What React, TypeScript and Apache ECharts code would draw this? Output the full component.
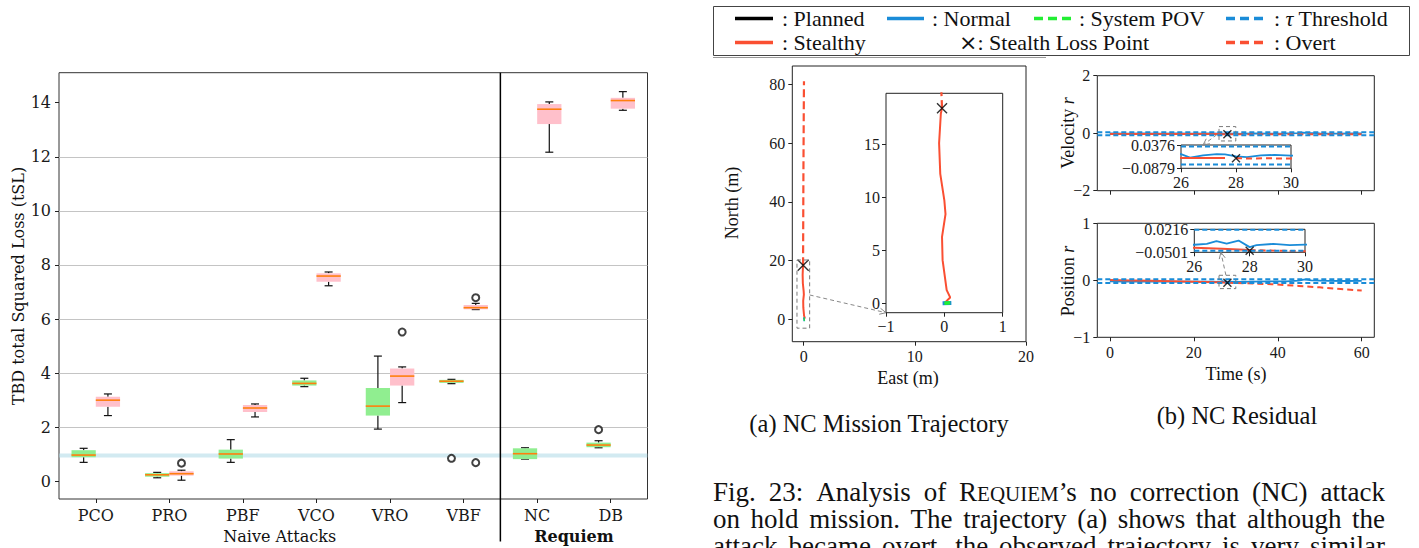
import React, { useEffect, useRef } from 'react';
import * as echarts from 'echarts';

// ---------------- Data ----------------
const categories = ['PCO', 'PRO', 'PBF', 'VCO', 'VRO', 'VBF', 'NC', 'DB'];
// [lower whisker, Q1, median, Q3, upper whisker]
const greenBoxStats = [
  [0.70, 0.89, 0.97, 1.15, 1.22],
  [0.13, 0.17, 0.24, 0.30, 0.33],
  [0.70, 0.84, 1.01, 1.17, 1.54],
  [3.50, 3.54, 3.62, 3.73, 3.81],
  [1.93, 2.43, 2.78, 3.45, 4.63],
  [3.61, 3.64, 3.70, 3.75, 3.77],
  [0.82, 0.82, 1.02, 1.22, 1.24],
  [1.24, 1.26, 1.34, 1.43, 1.50],
];
const pinkBoxStats = [
  [2.43, 2.76, 3.00, 3.13, 3.23],
  [0.04, 0.21, 0.28, 0.37, 0.41],
  [2.38, 2.56, 2.71, 2.82, 2.86],
  [7.23, 7.38, 7.59, 7.69, 7.74],
  [2.91, 3.54, 3.89, 4.17, 4.23],
  [6.35, 6.36, 6.42, 6.52, 6.58],
  [12.17, 13.21, 13.76, 13.95, 14.03],
  [13.72, 13.78, 14.08, 14.18, 14.41],
];
const greenOutliers: [string, number][] = [['VBF', 0.85], ['DB', 1.91]];
const pinkOutliers: [string, number][] = [['PRO', 0.67], ['VRO', 5.52], ['VBF', 6.79], ['VBF', 0.69]];
const thresholdLevel = 0.95;
const boxYTicks = [0, 2, 4, 6, 8, 10, 12, 14];
const naiveGroup = ['PCO', 'PRO', 'PBF', 'VCO', 'VRO', 'VBF'];
const requiemGroup = ['NC', 'DB'];

// Trajectory (East, North) in metres
const trajStealthy = [[0, 0], [0.1, 0.54], [0.04, 1.23], [-0.03, 4.06], [-0.04, 6.26], [0.02, 8.4], [0, 9.7], [-0.07, 12.2], [-0.09, 15.1], [-0.06, 17.9], [-0.04, 18.4]];
const trajOvert = [[-0.04, 18.4], [-0.05, 19.8], [-0.04, 30], [-0.02, 50], [0.01, 70], [0.03, 81]];
const trajNormal = [[-0.03, 0], [0.12, 0.02]];
const trajSystemPOV = [[0, 0], [0.06, 0.02], [0.1, 0.03]];
const trajLossPoint = [-0.04, 18.4];
const trajXTicks = [0, 10, 20];
const trajYTicks = [0, 20, 40, 60, 80];
const trajInsetXTicks = [-1, 0, 1];
const trajInsetYTicks = [0, 5, 10, 15];
const trajZoomBox = [-0.6, 0.54, -3, 20.2];

// Residuals (time s, value)
const velNormal = [[0, -0.01], [4, -0.014], [8, -0.008], [12, -0.012], [16, -0.01], [20, -0.013], [24, -0.009], [26, -0.012], [26.33, -0.03], [26.8, -0.018], [27.3, -0.012], [27.6, -0.013], [28, -0.024], [28.4, -0.028], [28.9, -0.018], [29.4, -0.016], [30, -0.02], [34, -0.01], [38, -0.012], [42, -0.008], [45, 0.0], [46, 0.02], [47, 0.01], [50, -0.01], [54, -0.012], [58, -0.01], [60, -0.011]];
const velStealthy = [[0, -0.03], [5, -0.031], [10, -0.03], [15, -0.032], [20, -0.031], [25, -0.032], [26, -0.032], [27, -0.033], [27.6, -0.033]];
const velOvert = [[28, -0.034], [28.5, -0.035], [29, -0.034], [30, -0.035], [35, -0.034], [40, -0.036], [45, -0.035], [50, -0.036], [55, -0.035], [60, -0.036]];
const velLossPoint = [28, -0.034];
const velThresholds = [0.029, -0.067];
const velYTicks = [-2, 0, 2];
const velInsetY = [-0.0879, 0.0376];
const velZoomBox = [26, 30, -0.27, 0.23];

const posNormal = [[0, -0.02], [4, -0.022], [8, -0.025], [12, -0.02], [16, -0.024], [20, -0.022], [24, -0.025], [26, -0.0266], [26.45, -0.024], [26.8, -0.0156], [27.17, -0.023], [27.6, -0.0136], [28, -0.034], [28.25, -0.0276], [28.85, -0.024], [29.45, -0.0276], [30, -0.026], [34, -0.022], [38, -0.02], [42, -0.018], [45, -0.005], [46.5, 0.015], [48, 0.0], [52, -0.01], [56, -0.012], [60, -0.01]];
const posStealthy = [[0, 0.004], [5, -0.003], [10, -0.01], [15, -0.017], [20, -0.024], [25, -0.033], [26, -0.036], [27, -0.039], [28, -0.043]];
const posOvert = [[28, -0.043], [30, -0.047], [35, -0.058], [40, -0.075], [45, -0.098], [50, -0.124], [55, -0.152], [60, -0.18]];
const posLossPoint = [28, -0.045];
const posThresholds = [0.0205, -0.0455];
const posYTicks = [-1, 0, 1];
const posInsetY = [-0.0501, 0.0216];
const posZoomBox = [26, 30, -0.146, 0.088];
const timeTicks = [0, 20, 40, 60];
const insetTimeTicks = [26, 28, 30];

// ---------------- Styles ----------------
const MPL = 'DejaVu Serif';
const TEX = 'Liberation Serif';
const RED = '#fa4f32';
const BLUE = '#1a8cd8';
const GREEN = '#22ee33';
const X_PATH = 'path://M0 0L10 10M10 0L0 10';

const BOX_X = [0.5, 8.5];
const BOX_Y = [-0.655, 15.11];
const TRAJ_X = [-1.02, 20];
const TRAJ_Y = [-7.6, 86.2];
const TRAJ_IN_X = [-1, 1];
const TRAJ_IN_Y = [-0.9, 19.8];
const TIME_X = [-3, 63];
const INSET_T = [26, 30];
const BOX_HALF = 0.165;

const fmt = (v: number) => String(Number(v.toFixed(6))).replace('-', '\u2212');
const inTicks = (ticks: number[], v: number) => ticks.some((t) => Math.abs(t - v) < 1e-9);

function valueAxis(gi: number, range: number[], ticks: number[], o: any = {}) {
  const step = ticks.length > 1 ? ticks[1] - ticks[0] : range[1] - range[0];
  return {
    type: 'value', gridIndex: gi, min: range[0], max: range[1],
    minInterval: step, maxInterval: step,
    axisLine: { show: false, onZero: false },
    axisTick: { show: true, inside: false, length: 4, customValues: ticks, lineStyle: { color: '#222', width: 1 } },
    axisLabel: {
      show: o.labels !== false, customValues: ticks, showMinLabel: true, showMaxLabel: true,
      margin: o.margin ?? 7, fontFamily: o.font ?? TEX, fontSize: o.fontSize ?? 16, color: '#1a1a1a',
      formatter: (v: number) => (inTicks(ticks, v) ? (o.fmt ? o.fmt(v) : fmt(v)) : ''),
    },
    splitLine: { show: !!o.split, showMinLine: false, showMaxLine: false, lineStyle: { color: '#c4c4c4', width: 1 } },
  };
}

const lineS = (gi: number, data: number[][], color: string, width: number, dash?: number[], z = 2) => ({
  type: 'line', xAxisIndex: gi, yAxisIndex: gi, data, showSymbol: false, symbol: 'none',
  lineStyle: { color, width, type: dash ?? 'solid', cap: 'butt' }, z, silent: true, clip: true,
});
const xMark = (gi: number, pt: number[], size: number) => ({
  type: 'scatter', xAxisIndex: gi, yAxisIndex: gi, data: [pt], symbol: X_PATH, symbolSize: size,
  itemStyle: { color: 'rgba(0,0,0,0)', borderColor: '#000', borderWidth: 1.4 }, z: 10, silent: true,
});
const hLine = (gi: number, xr: number[], y: number, color: string, width: number, dash?: number[]) =>
  lineS(gi, [[xr[0], y], [xr[1], y]], color, width, dash, 3);

function boxSeries(stats: number[][], side: number, fill: string) {
  return {
    type: 'custom', xAxisIndex: 0, yAxisIndex: 0, z: 4, silent: true, clip: false,
    data: stats.map((s, i) => [i + 1, ...s]),
    renderItem: (_p: any, api: any) => {
      const x = api.value(0) + side * BOX_HALF;
      const lo = api.value(1), q1 = api.value(2), md = api.value(3), q3 = api.value(4), hi = api.value(5);
      const tl = api.coord([x - BOX_HALF, q3]);
      const br = api.coord([x + BOX_HALF, q1]);
      const c = api.coord([x, md]);
      const pLo = api.coord([x, lo]);
      const pHi = api.coord([x, hi]);
      const cap = 4;
      const k = { stroke: '#111', lineWidth: 1.2 };
      return {
        type: 'group',
        children: [
          { type: 'line', shape: { x1: c[0], y1: pHi[1], x2: c[0], y2: tl[1] }, style: k },
          { type: 'line', shape: { x1: c[0], y1: br[1], x2: c[0], y2: pLo[1] }, style: k },
          { type: 'line', shape: { x1: c[0] - cap, y1: pHi[1], x2: c[0] + cap, y2: pHi[1] }, style: k },
          { type: 'line', shape: { x1: c[0] - cap, y1: pLo[1], x2: c[0] + cap, y2: pLo[1] }, style: k },
          { type: 'rect', shape: { x: tl[0], y: tl[1], width: br[0] - tl[0], height: Math.max(br[1] - tl[1], 1) }, style: { fill } },
          { type: 'line', shape: { x1: tl[0], y1: c[1], x2: br[0], y2: c[1] }, style: { stroke: '#ff7f0e', lineWidth: 1.6 } },
        ],
      };
    },
  };
}

const outlierS = (list: [string, number][], side: number) => ({
  type: 'scatter', xAxisIndex: 0, yAxisIndex: 0, z: 6, silent: true,
  data: list.map(([c, v]) => [categories.indexOf(c) + 1 + side * BOX_HALF, v]),
  symbol: 'emptyCircle', symbolSize: 7,
  itemStyle: { color: '#111', borderColor: '#111', borderWidth: 1 },
});

// ---------- graphic helpers ----------
let measureCtx: CanvasRenderingContext2D | null = null;
function measure(t: string, size: number, family = TEX, style = 'normal', weight = 'normal') {
  if (!measureCtx) measureCtx = document.createElement('canvas').getContext('2d');
  measureCtx!.font = `${style} ${weight} ${size}px ${family}`;
  return measureCtx!.measureText(t).width;
}
const txt = (x: number, y: number, text: string, o: any = {}) => {
  const family = o.family ?? TEX;
  const size = o.size ?? 18;
  const weight = o.weight ?? 'normal';
  const fstyle = o.style ?? 'normal';
  return {
    type: 'text', x, y, rotation: o.rotation ?? 0, silent: true, z: 50,
    style: {
      text, font: `${fstyle} ${weight} ${size}px ${family}`,
      fontFamily: family, fontSize: size, fontWeight: weight, fontStyle: fstyle,
      fill: o.fill ?? '#111', align: o.align ?? 'left', verticalAlign: o.valign ?? 'middle',
    },
  };
};
function arrow(p0: number[], p1: number[], color = '#888') {
  const ang = Math.atan2(p1[1] - p0[1], p1[0] - p0[0]);
  const L = 7, a = 0.45;
  const h1 = [p1[0] - L * Math.cos(ang - a), p1[1] - L * Math.sin(ang - a)];
  const h2 = [p1[0] - L * Math.cos(ang + a), p1[1] - L * Math.sin(ang + a)];
  return [
    { type: 'line', silent: true, z: 40, shape: { x1: p0[0], y1: p0[1], x2: p1[0], y2: p1[1] }, style: { stroke: color, lineWidth: 1, lineDash: [4, 3] } },
    { type: 'polyline', silent: true, z: 40, shape: { points: [h1, p1, h2] }, style: { stroke: color, lineWidth: 1, fill: null } },
  ];
}
const CAP = 27;
const SC = 21;
function justified(words: [string, number][][], x0: number, x1: number, yc: number) {
  const widths = words.map((w) => w.reduce((s, [t, sz]) => s + measure(t, sz), 0));
  const total = widths.reduce((a, b) => a + b, 0);
  const gap = (x1 - x0 - total) / (words.length - 1);
  const els: any[] = [];
  let x = x0;
  words.forEach((w, i) => {
    let xs = x;
    w.forEach(([t, sz]) => {
      els.push(txt(xs, yc + (CAP - sz) * 0.34, t, { size: sz }));
      xs += measure(t, sz);
    });
    x += widths[i] + gap;
  });
  return els;
}
const plainWords = (s: string): [string, number][][] => s.split(' ').map((w) => [[w, CAP]]);

export default function App() {
  const ref = useRef<HTMLDivElement>(null);
  useEffect(() => {
    const chart = echarts.init(ref.current!, null, { renderer: 'svg' });
    const gridBase = { show: true, borderColor: '#222', borderWidth: 1, backgroundColor: 'transparent', containLabel: false, outerBoundsMode: 'none' };
    const grids = [
      { ...gridBase, left: 59, top: 72.7, width: 588.5, height: 426.3, borderColor: '#333' },
      { ...gridBase, left: 792.3, top: 66, width: 233.7, height: 275.7 },
      { ...gridBase, left: 886, top: 93.3, width: 116.7, height: 219.4, backgroundColor: '#fff' },
      { ...gridBase, left: 1097.3, top: 75.7, width: 277, height: 115 },
      { ...gridBase, left: 1181, top: 145, width: 110, height: 23.3, backgroundColor: '#fff' },
      { ...gridBase, left: 1097.3, top: 223.3, width: 277, height: 114 },
      { ...gridBase, left: 1194.3, top: 229.3, width: 110.7, height: 23, backgroundColor: '#fff' },
    ];
    const catTicks = categories.map((_, i) => i + 1);
    const xAxis = [
      valueAxis(0, BOX_X, catTicks, { font: MPL, fontSize: 16, margin: 8, fmt: (v: number) => categories[Math.round(v) - 1] }),
      valueAxis(1, TRAJ_X, trajXTicks, { margin: 7 }),
      valueAxis(2, TRAJ_IN_X, trajInsetXTicks, { margin: 6 }),
      valueAxis(3, TIME_X, timeTicks, { labels: false }),
      valueAxis(4, INSET_T, insetTimeTicks, { margin: 6 }),
      valueAxis(5, TIME_X, timeTicks, { margin: 7 }),
      valueAxis(6, INSET_T, insetTimeTicks, { margin: 6 }),
    ];
    const yAxis = [
      valueAxis(0, BOX_Y, boxYTicks, { font: MPL, fontSize: 16, margin: 8, split: true }),
      valueAxis(1, TRAJ_Y, trajYTicks, { margin: 7 }),
      valueAxis(2, TRAJ_IN_Y, trajInsetYTicks, { margin: 6 }),
      valueAxis(3, [velYTicks[0], velYTicks[2]], velYTicks, { margin: 7 }),
      valueAxis(4, velInsetY, velInsetY, { margin: 6 }),
      valueAxis(5, [posYTicks[0], posYTicks[2]], posYTicks, { margin: 7 }),
      valueAxis(6, posInsetY, posInsetY, { margin: 6 }),
    ];
    const series: any[] = [
      hLine(0, BOX_X, thresholdLevel, 'rgba(173,216,230,0.55)', 4),
      boxSeries(greenBoxStats, -1, '#90ee90'),
      boxSeries(pinkBoxStats, 1, '#ffc0cb'),
      outlierS(greenOutliers, -1),
      outlierS(pinkOutliers, 1),
    ];
    [1, 2].forEach((gi) => {
      series.push(lineS(gi, trajStealthy, RED, 2));
      series.push(lineS(gi, trajOvert, RED, 2.2, [8, 4]));
      series.push(lineS(gi, trajNormal, BLUE, 4, undefined, 4));
      series.push(lineS(gi, trajSystemPOV, GREEN, 3.5, undefined, 5));
      series.push(xMark(gi, trajLossPoint, gi === 1 ? 11 : 10));
    });
    const resid = (gi: number, normal: number[][], st: number[][], ov: number[][], thr: number[], lp: number[], xr: number[]) => {
      series.push(lineS(gi, normal, BLUE, 1.8));
      series.push(lineS(gi, st, RED, 2));
      series.push(lineS(gi, ov, RED, 2, [6, 4]));
      thr.forEach((t) => series.push(hLine(gi, xr, t, BLUE, 2, [5, 3])));
      series.push(xMark(gi, lp, 8));
    };
    resid(3, velNormal, velStealthy, velOvert, velThresholds, velLossPoint, TIME_X);
    resid(4, velNormal, velStealthy, velOvert, velThresholds, velLossPoint, INSET_T);
    resid(5, posNormal, posStealthy, posOvert, posThresholds, posLossPoint, TIME_X);
    resid(6, posNormal, posStealthy, posOvert, posThresholds, posLossPoint, INSET_T);

    chart.setOption({ animation: false, grid: grids, xAxis, yAxis, series });

    const px = (gi: number, pt: number[]) => chart.convertToPixel({ xAxisIndex: gi, yAxisIndex: gi } as any, pt) as number[];
    const els: any[] = [];
    const catPos = (c: string) => categories.indexOf(c) + 1;
    const lastNaive = catPos(naiveGroup[naiveGroup.length - 1]);
    const firstReq = catPos(requiemGroup[0]);
    const divTop = px(0, [(lastNaive + firstReq) / 2, BOX_Y[1]]);
    els.push({ type: 'line', silent: true, z: 40, shape: { x1: divTop[0], y1: divTop[1], x2: divTop[0], y2: 541.5 }, style: { stroke: '#000', lineWidth: 1.5 } });
    const naiveC = (px(0, [catPos(naiveGroup[0]), 0])[0] + px(0, [lastNaive, 0])[0]) / 2;
    const reqC = (px(0, [firstReq, 0])[0] + px(0, [catPos(requiemGroup[1]), 0])[0]) / 2;
    els.push(txt(naiveC, 536.5, 'Naive Attacks', { family: MPL, size: 16, align: 'center' }));
    els.push(txt(reqC, 536.5, 'Requiem', { family: MPL, size: 16, align: 'center', weight: 'bold' }));
    els.push(txt(18, 286, 'TBD total Squared Loss (tSL)', { family: MPL, size: 16, align: 'center', rotation: Math.PI / 2 }));

    const zoomRect = (gi: number, b: number[]) => {
      const a = px(gi, [b[0], b[3]]);
      const c = px(gi, [b[1], b[2]]);
      return { type: 'rect', silent: true, z: 40, shape: { x: a[0], y: a[1], width: c[0] - a[0], height: c[1] - a[1] }, style: { stroke: '#7a7a7a', lineWidth: 1, lineDash: [4, 3], fill: null } };
    };
    els.push(zoomRect(1, trajZoomBox), zoomRect(3, velZoomBox), zoomRect(5, posZoomBox));
    els.push(...arrow(px(1, [trajZoomBox[1], 8.3]), px(2, [TRAJ_IN_X[0], TRAJ_IN_Y[0]])));
    els.push(...arrow(px(3, [velZoomBox[0] - 0.5, -0.05]), px(4, [26.8, velInsetY[1]])));
    els.push(...arrow(px(5, [27.65, posZoomBox[3]]), px(6, [26.96, posInsetY[0]])));

    els.push(txt(731.7, 203, 'North (m)', { size: 18, align: 'center', rotation: Math.PI / 2 }));
    els.push(txt(908, 378, 'East (m)', { size: 18, align: 'center' }));
    els.push(txt(1236, 373.5, 'Time (s)', { size: 18, align: 'center' }));
    const rotRich = (x: number, y: number, word: string) => {
      const w1 = measure(word + ' ', 18);
      const w2 = measure('r', 18, TEX, 'italic');
      const tot = w1 + w2;
      return [
        txt(x, y + tot / 2, word + ' ', { size: 18, rotation: Math.PI / 2 }),
        txt(x, y + tot / 2 - w1, 'r', { size: 18, style: 'italic', rotation: Math.PI / 2 }),
      ];
    };
    els.push(...rotRich(1068, 133, 'Velocity'));
    els.push(...rotRich(1068, 281, 'Position'));

    // legend
    els.push({ type: 'rect', silent: true, z: 40, shape: { x: 713.5, y: 6.5, width: 696, height: 49 }, style: { stroke: '#444', lineWidth: 1, fill: null } });
    els.push({ type: 'line', silent: true, z: 40, shape: { x1: 713, y1: 57.5, x2: 1046, y2: 57.5 }, style: { stroke: '#999', lineWidth: 1 } });
    const legLine = (x1: number, x2: number, y: number, color: string, dash?: number[]) => ({
      type: 'line', silent: true, z: 40, shape: { x1, y1: y, x2, y2: y }, style: { stroke: color, lineWidth: 3.5, lineDash: dash ?? null },
    });
    const r1 = 18.5, r2 = 42.5;
    els.push(legLine(735, 773, r1, '#000'), txt(782, r1, ': Planned', { size: 22 }));
    els.push(legLine(887, 924, r1, BLUE), txt(932, r1, ': Normal', { size: 22 }));
    els.push(legLine(1034, 1071, r1, GREEN, [9, 5]), txt(1079, r1, ': System POV', { size: 22 }));
    els.push(legLine(1226, 1264, r1, BLUE, [9, 5]), txt(1274, r1, ': ', { size: 22 }));
    const wc = measure(': ', 22);
    els.push(txt(1274 + wc, r1, '\u03c4', { size: 22, style: 'italic' }));
    const wt = measure('\u03c4', 22, TEX, 'italic');
    els.push(txt(1274 + wc + wt, r1, ' Threshold', { size: 22 }));
    els.push(legLine(735, 773, r2, RED), txt(782, r2, ': Stealthy', { size: 22 }));
    els.push(txt(959, r2, '\u00d7', { size: 22, family: 'DejaVu Sans' }));
    els.push(txt(959 + measure('\u00d7', 22, 'DejaVu Sans'), r2, ': Stealth Loss Point', { size: 22 }));
    els.push(legLine(1226, 1264, r2, RED, [9, 5]), txt(1274, r2, ': Overt', { size: 22 }));

    // captions
    els.push(txt(879, 423, '(a) NC Mission Trajectory', { size: 24.5, align: 'center' }));
    els.push(txt(1237, 415, '(b) NC Residual', { size: 24.5, align: 'center' }));
    const line1: [string, number][][] = [
      [['Fig.', CAP]], [['23:', CAP]], [['Analysis', CAP]], [['of', CAP]],
      [['R', CAP], ['EQUIEM', SC], ['\u2019s', CAP]],
      [['no', CAP]], [['correction', CAP]], [['(NC)', CAP]], [['attack', CAP]],
    ];
    els.push(...justified(line1, 713, 1385, 492));
    els.push(...justified(plainWords('on hold mission. The trajectory (a) shows that although the'), 713, 1385, 519));
    els.push(...justified(plainWords('attack became overt, the observed trajectory is very similar'), 713, 1385, 546));

    chart.setOption({ graphic: { elements: els } });
    return () => chart.dispose();
  }, []);
  return <div ref={ref} style={{ position: 'absolute', left: 0, top: 0, width: 1419, height: 548, background: '#fff' }} />;
}
